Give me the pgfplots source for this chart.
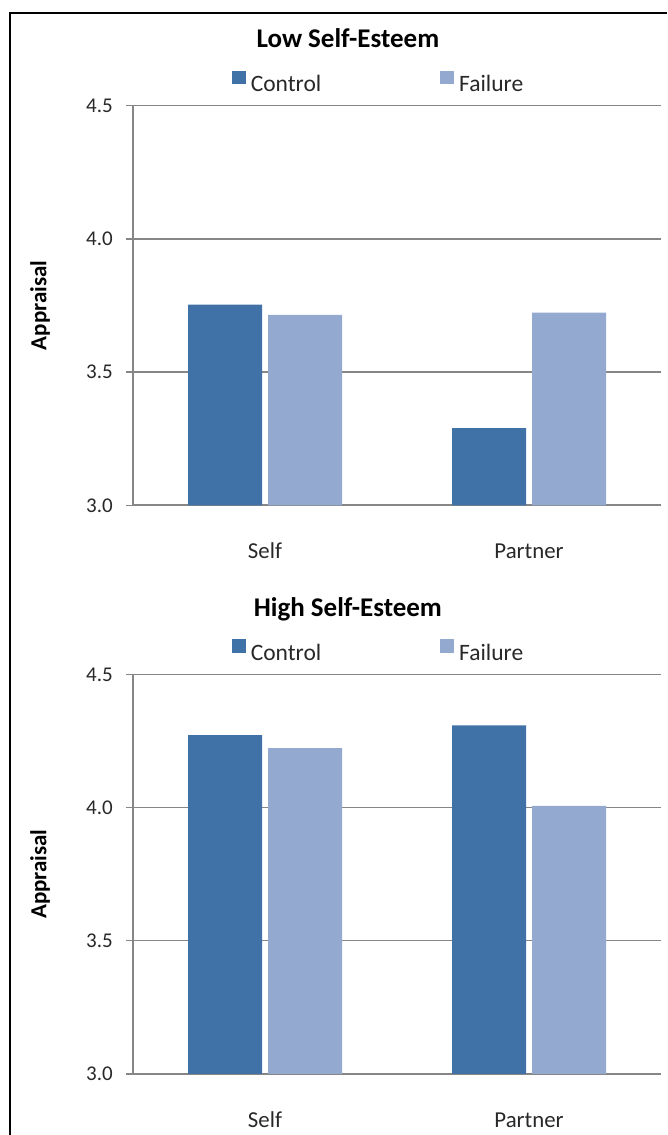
\documentclass[border=0pt]{standalone}
\usepackage{fontspec}
\setmainfont{Carlito}
\usepackage{pgfplots}
\pgfplotsset{compat=1.18}
\definecolor{ctrl}{RGB}{64,114,167}
\definecolor{fail}{RGB}{147,169,207}
\definecolor{gridc}{RGB}{134,134,134}
\definecolor{txt}{RGB}{40,40,40}

\pgfplotsset{
  panel/.style={
    scale only axis, width=528pt, height=399.6pt,
    xmin=-0.5, xmax=1.5, ymin=3, ymax=4.5,
    xtick={0,1}, xticklabels={Self,Partner},
    ytick={3,3.5,4,4.5}, yticklabels={3.0,3.5,4.0,4.5},
    axis x line*=bottom, axis y line*=left,
    axis line style={gridc, line width=1.6pt, -},
    ymajorgrids, grid style={gridc, line width=1.3pt},
    ytick style={gridc, line width=1.3pt},
    tick align=outside, major tick length=7pt,
    xtick style={draw=none},
    yticklabel style={font=\fontsize{21}{25}\selectfont, text=txt, anchor=east, inner sep=0pt, xshift=-13pt},
    xticklabel style={font=\fontsize{22.8}{27}\selectfont, text=txt, anchor=base, inner sep=0pt, yshift=-46pt},
    title style={at={(rel axis cs:0.407,1.131)}, anchor=base, inner sep=0pt, font=\fontsize{27}{32}\selectfont\bfseries},
    ylabel=Appraisal,
    ylabel style={at={(rel axis cs:-0.1761,0.5)}, anchor=center, inner sep=0pt, font=\fontsize{23}{28}\selectfont\bfseries},
    ybar, bar width=74pt,
    legend columns=2,
    legend cell align=left,
    legend style={at={(rel axis cs:0.1875,1.0318)}, anchor=south west, draw=none, fill=none,
      inner sep=0pt, outer sep=0pt, font=\fontsize{23.5}{28}\selectfont, text=txt,
      nodes={inner sep=0pt},
      /tikz/every odd column/.append style={column sep=5.3pt},
      /tikz/every even column/.append style={column sep=119pt}},
    legend image code/.code={\fill[##1,draw=none] (0pt,0pt) rectangle (13.5pt,13.5pt);},
  }
}

\begin{document}
\begin{tikzpicture}
\useasboundingbox (0,0) rectangle (667pt,1135pt);
\draw[line width=2pt] (10pt,0pt) -- (10pt,1122pt) -- (667pt,1122pt);

\begin{axis}[panel, at={(133pt,629.7pt)}, anchor=south west, title={Low Self-Esteem}]
\addplot[fill=ctrl, draw=none, bar shift=-40pt] coordinates {(0,3.753) (1,3.290)};
\addplot[fill=fail, draw=none, bar shift=40pt] coordinates {(0,3.715) (1,3.723)};
\legend{Control,Failure}
\end{axis}

\begin{axis}[panel, at={(133pt,61pt)}, anchor=south west, title={High Self-Esteem}]
\addplot[fill=ctrl, draw=none, bar shift=-40pt] coordinates {(0,4.272) (1,4.309)};
\addplot[fill=fail, draw=none, bar shift=40pt] coordinates {(0,4.223) (1,4.006)};
\legend{Control,Failure}
\end{axis}
\end{tikzpicture}
\end{document}
